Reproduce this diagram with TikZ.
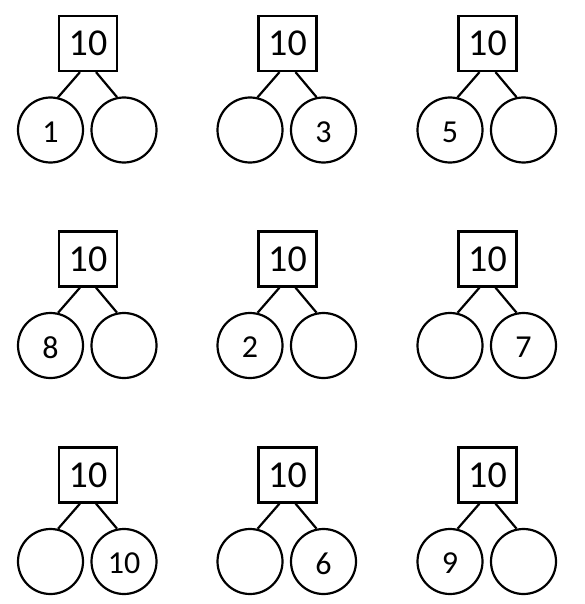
\documentclass[tikz,border=0pt]{standalone}
\usepackage{fontspec}
\setmainfont{Carlito}
\begin{document}
\begin{tikzpicture}[x=1pt,y=1pt,
  topbox/.style={draw,line width=2.2pt,minimum width=58pt,minimum height=55pt,inner sep=0pt,font=\fontsize{38}{42}\selectfont},
  partcirc/.style={draw,circle,line width=2.2pt,minimum size=65pt,inner sep=0pt},
  digit/.style={inner sep=0pt,font=\fontsize{32}{36}\selectfont},
  link/.style={line width=2.2pt}]
\useasboundingbox (0,0) rectangle (585,-604);
\foreach \c/\bx in {1/88,2/287.5,3/487.5}{
  \foreach \r/\by in {1/43.5,2/259,3/475}{
    \node[topbox] (b\c\r) at (\bx,-\by) {10};
    \node[partcirc] (l\c\r) at (\bx-37.5,-\by-86.5) {};
    \node[partcirc] (r\c\r) at (\bx+36,-\by-86.5) {};
    \draw[link] ([xshift=-8pt]b\c\r.south) -- (l\c\r.77);
    \draw[link] ([xshift=8pt]b\c\r.south) -- (r\c\r.102);
  }
}
% numbers in circles
\node[digit] (n1) at ([yshift=-2pt]l11.center) {1};
\node[digit] (n3) at ([yshift=-2pt]r21.center) {3};
\node[digit] (n5) at ([yshift=-2pt]l31.center) {5};
\node[digit] (n8) at ([yshift=-2pt]l12.center) {8};
\node[digit] (n2) at ([yshift=-2pt]l22.center) {2};
\node[digit] (n7) at ([yshift=-2pt]r32.center) {7};
\node[digit] (n10) at ([yshift=-2pt]r13.center) {10};
\node[digit] (n6) at ([yshift=-2pt]r23.center) {6};
\node[digit] (n9) at ([yshift=-2pt]l33.center) {9};
\end{tikzpicture}
\end{document}
